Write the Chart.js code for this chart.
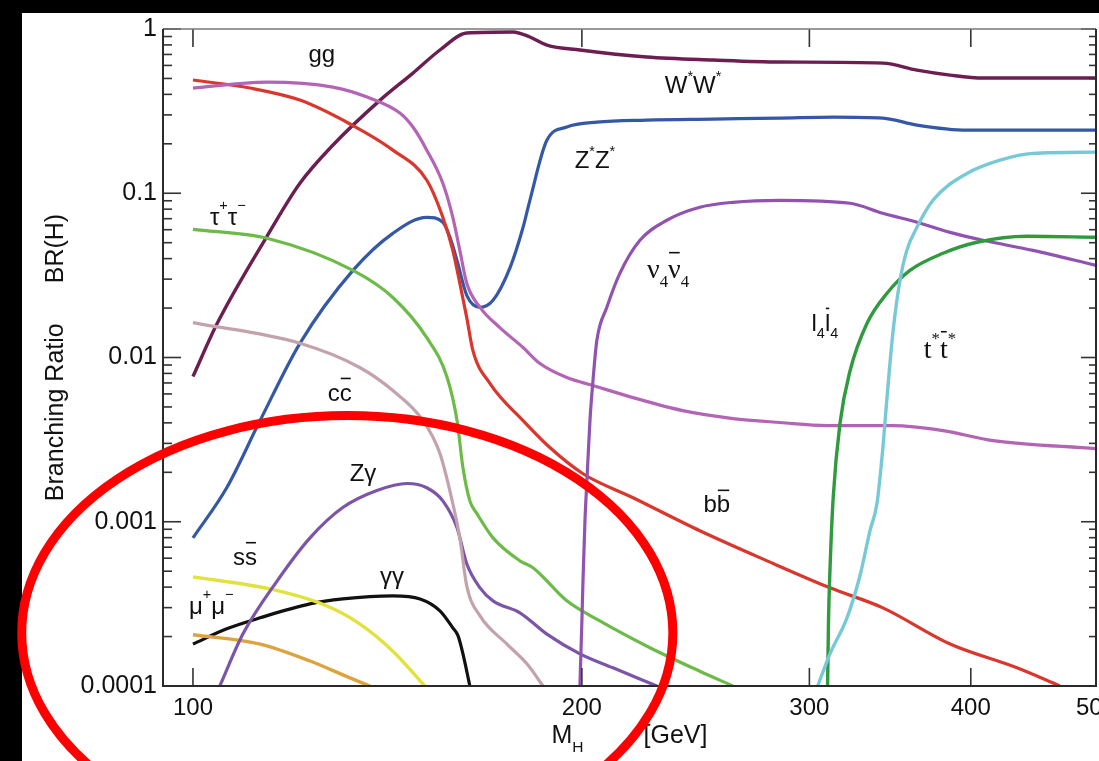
<!DOCTYPE html>
<html>
<head>
<meta charset="utf-8">
<title>Higgs branching ratios</title>
<script src="https://cdn.jsdelivr.net/npm/chart.js@4.4.1/dist/chart.umd.min.js"></script>
<style>
  html, body { margin: 0; padding: 0; background: #000; overflow: hidden; }
  canvas { display: block; }
</style>
</head>
<body>
<canvas id="br" width="1099" height="761"></canvas>
<script>
// Axis ticks
const massTicks = [100, 200, 300, 400, 500];
const massTickLabels = ['100', '200', '300', '400', '500'];
const brTicks = [0.0001, 0.001, 0.01, 0.1, 1];
const brTickLabels = ['0.0001', '0.001', '0.01', '0.1', '1'];

// Branching ratio curves: Higgs mass [GeV] and BR(H)
const bbMass = [100, 110.7, 121.0, 132.3, 142.8, 151.7, 156.1, 158.9, 160.9, 162.9, 164.7, 169.8, 180.1, 188.9, 200.4, 219.1, 246.8, 278.2, 311.2, 342.0, 385.5, 434.3, 468.8];
const bbBR = [0.489, 0.437, 0.369, 0.264, 0.183, 0.120, 0.0714, 0.0449, 0.0283, 0.0175, 0.0110, 0.00694, 0.00413, 0.00283, 0.00196, 0.00140, 0.000881, 0.000578, 0.000396, 0.000299, 0.000180, 0.000129, 0.0001];

const ggMass = [100, 114.1, 128.3, 136.4, 144.6, 148.0, 151.7, 156.1, 158.9, 160.9, 162.9, 166.8, 172.8, 180.1, 185.6, 194.7, 204.0, 219.1, 239.4, 261.8, 284.7, 309.5, 348.3, 380.7, 416.2, 500];
const ggBR = [0.437, 0.475, 0.443, 0.385, 0.308, 0.253, 0.183, 0.115, 0.0714, 0.0449, 0.0283, 0.0202, 0.0152, 0.0115, 0.00919, 0.00755, 0.00675, 0.00570, 0.00475, 0.00425, 0.00402, 0.00385, 0.00385, 0.00359, 0.00312, 0.00279];

const wwMass = [100, 104.4, 114.1, 121.0, 128.3, 139.6, 148.0, 155.3, 162.9, 176.9, 182.3, 187.9, 199.3, 224.5, 252.6, 284.7, 342.0, 363.4, 385.5, 408.8, 500];
const wwBR = [0.00766, 0.0161, 0.0547, 0.115, 0.196, 0.369, 0.539, 0.745, 0.945, 0.959, 0.894, 0.799, 0.745, 0.675, 0.647, 0.629, 0.620, 0.562, 0.524, 0.503, 0.503];

const zzMass = [100, 106.2, 112.7, 121.0, 133.0, 142.8, 151.7, 156.1, 158.1, 160.1, 162.9, 166.8, 170.7, 176.0, 180.1, 182.3, 187.9, 194.7, 205.4, 224.5, 252.6, 284.7, 313.0, 342.0, 363.4, 397.3, 500];
const zzBR = [0.000798, 0.00161, 0.00413, 0.0122, 0.0339, 0.0570, 0.0714, 0.0666, 0.0539, 0.0390, 0.0239, 0.0202, 0.0223, 0.0354, 0.0621, 0.0906, 0.210, 0.253, 0.271, 0.279, 0.283, 0.287, 0.291, 0.287, 0.260, 0.242, 0.242];

const tauMass = [100, 114.1, 133.0, 142.8, 151.7, 157.3, 160.1, 161.8, 163.8, 165.9, 170.7, 179.1, 183.3, 194.7, 206.5, 225.8, 246.8, 261.8];
const tauBR = [0.0603, 0.0532, 0.0339, 0.0232, 0.0132, 0.00755, 0.00413, 0.00213, 0.00134, 0.00112, 0.000798, 0.000578, 0.000525, 0.000330, 0.000249, 0.000171, 0.000123, 0.0001];

const ccMass = [100, 121.0, 134.6, 142.8, 150.7, 155.3, 158.9, 160.9, 162.9, 166.8, 175.0, 181.4, 186.6];
const ccBR = [0.0163, 0.0122, 0.00869, 0.00629, 0.00413, 0.00260, 0.00129, 0.000798, 0.000407, 0.000267, 0.000180, 0.000136, 0.0001];

const zgMass = [104.9, 109.3, 116.2, 123.2, 130.6, 138.8, 146.5, 151.7, 156.1, 160.1, 162.9, 166.8, 170.7, 179.1, 187.9, 199.3, 211.4, 228.6];
const zgBR = [0.0001, 0.000207, 0.000437, 0.000798, 0.00122, 0.00155, 0.00171, 0.00161, 0.00134, 0.000919, 0.000555, 0.000396, 0.000330, 0.000279, 0.000207, 0.000157, 0.000129, 0.0001];

const ssMass = [100, 114.7, 127.0, 134.6, 142.8, 151.2];
const ssBR = [0.000462, 0.000390, 0.000307, 0.000239, 0.000163, 0.0001];

const mumuMass = [100, 112.7, 123.2, 132.3, 137.1];
const mumuBR = [0.000205, 0.000180, 0.000142, 0.000112, 0.0001];

const gamgamMass = [100, 106.2, 112.7, 123.2, 130.6, 142.8, 149.9, 155.3, 158.9, 160.4, 161.8, 163.8];
const gamgamBR = [0.000180, 0.000223, 0.000260, 0.000316, 0.000339, 0.000354, 0.000339, 0.000287, 0.000226, 0.000202, 0.000157, 0.0001];

const nu4Mass = [199.3, 200.0, 200.4, 201.1, 201.8, 202.9, 204.0, 205.4, 209.1, 214.0, 221.8, 232.7, 246.8, 261.8, 284.7, 322.6, 342.0, 363.4, 385.5, 408.8, 446.8, 500];
const nu4BR = [0.0001, 0.000249, 0.000437, 0.00101, 0.00178, 0.00413, 0.00724, 0.0127, 0.0202, 0.0325, 0.0517, 0.0685, 0.0822, 0.0881, 0.0906, 0.0869, 0.0755, 0.0666, 0.0578, 0.0517, 0.0449, 0.0364];

const l4Mass = [309.9, 310.4, 311.2, 313.0, 316.8, 322.6, 332.4, 344.5, 358.9, 380.7, 404.5, 442.1, 500];
const l4BR = [0.0001, 0.000249, 0.000503, 0.00140, 0.00396, 0.00833, 0.0161, 0.0246, 0.0339, 0.0431, 0.0503, 0.0547, 0.0540];

const ttMass = [304.5, 311.2, 320.8, 328.3, 334.2, 338.4, 342.0, 344.5, 348.3, 352.6, 356.9, 363.4, 373.9, 397.3, 421.4, 446.8, 500];
const ttBR = [0.0001, 0.000157, 0.000260, 0.000469, 0.000881, 0.00129, 0.00283, 0.00570, 0.0146, 0.0295, 0.0449, 0.0621, 0.0906, 0.132, 0.159, 0.175, 0.178];

// Channel labels: position in (mass, BR) and markup (^ superscript, _ subscript, ! overbar)
const labelMass = [125.8, 243.8, 204.7, 106.4, 233.2, 308.4, 378.6, 129.9, 254.4, 135.4, 109.7, 142.6, 103.3];
const labelBR = [0.629, 0.407, 0.142, 0.0638, 0.0303, 0.0146, 0.0100, 0.00547, 0.00114, 0.00178, 0.000547, 0.000419, 0.000275];
const labelText = ['gg', 'W^*W^*', 'Z^*Z^*', 'τ^+τ^−', 'ν_4!ν_4', 'l_4!l_4', 't^*!t^*', 'c!c', 'b!b', 'Zγ', 's!s', 'γγ', 'μ^+μ^−'];
const labelSerif = [false, false, false, false, true, false, true, false, false, false, false, false, false];

// Highlight ring spanning (mass range, BR range)
const ringMass = [73.7, 235.2];
const ringBR = [0.00001, 0.00443];

const SANS = "'Liberation Sans', Arial, Helvetica, sans-serif";
const SERIF = "'Liberation Serif', 'Times New Roman', serif";

const channels = [
  { mass: ttMass, br: ttBR, color: '#78c9d7', width: 3.4 },
  { mass: l4Mass, br: l4BR, color: '#2f9a3e', width: 3.4 },
  { mass: nu4Mass, br: nu4BR, color: '#9053b0', width: 3.2 },
  { mass: ccMass, br: ccBR, color: '#c3a3ab', width: 3.2 },
  { mass: tauMass, br: tauBR, color: '#6cbb48', width: 3.2 },
  { mass: zgMass, br: zgBR, color: '#7b55a8', width: 3.2 },
  { mass: ssMass, br: ssBR, color: '#e2e23c', width: 3.4 },
  { mass: mumuMass, br: mumuBR, color: '#dca33e', width: 3.4 },
  { mass: gamgamMass, br: gamgamBR, color: '#111111', width: 3.2 },
  { mass: ggMass, br: ggBR, color: '#b464b5', width: 3.2 },
  { mass: bbMass, br: bbBR, color: '#d9372d', width: 3.2 },
  { mass: zzMass, br: zzBR, color: '#3558a6', width: 3.2 },
  { mass: wwMass, br: wwBR, color: '#6c1e50', width: 3.4 }
];

const datasets = channels.map(c => ({
  data: c.mass.map((m, i) => ({ x: m, y: c.br[i] })),
  borderColor: c.color,
  borderWidth: c.width,
  pointRadius: 0,
  fill: false,
  cubicInterpolationMode: 'monotone'
}));

// minor log ticks 2..9 within each decade of the BR axis
const brMinor = [];
for (let k = 0; k < brTicks.length - 1; k++) {
  for (let m = 2; m <= 9; m++) brMinor.push(m * brTicks[k]);
}

function line(ctx, x1, y1, x2, y2) {
  ctx.beginPath(); ctx.moveTo(x1, y1); ctx.lineTo(x2, y2); ctx.stroke();
}

function drawRich(ctx, cx, baseY, markup, size, family) {
  const segs = [];
  let mode = null, bar = false;
  for (const ch of markup) {
    if (ch === '^') { mode = 'sup'; continue; }
    if (ch === '_') { mode = 'sub'; continue; }
    if (ch === '!') { bar = true; continue; }
    segs.push({ t: ch, mode, bar });
    mode = null; bar = false;
  }
  let total = 0;
  segs.forEach(s => {
    s.size = s.mode ? size * 0.6 : size;
    ctx.font = `${s.size}px ${family}`;
    s.w = ctx.measureText(s.t).width;
    total += s.w;
  });
  let x = cx - total / 2;
  ctx.textAlign = 'left';
  ctx.textBaseline = 'alphabetic';
  segs.forEach(s => {
    ctx.font = `${s.size}px ${family}`;
    let dy = 0;
    if (s.mode === 'sup') dy = (s.t === '*') ? -size * 0.5 : -size * 0.62;
    if (s.mode === 'sub') dy = size * 0.32;
    ctx.fillText(s.t, x, baseY + dy);
    if (s.bar) {
      ctx.lineWidth = 1.6;
      line(ctx, x + 1, baseY - size * 0.92, x + s.w - 1, baseY - size * 0.92);
    }
    x += s.w;
  });
}

const backdrop = {
  id: 'backdrop',
  beforeDraw(chart) {
    const { ctx, width, height } = chart;
    ctx.save();
    ctx.fillStyle = '#000';
    ctx.fillRect(0, 0, width, height);
    ctx.fillStyle = '#fff';
    ctx.fillRect(22, 13, width - 22, height - 13);
    ctx.restore();
  }
};

const frame = {
  id: 'frame',
  afterDatasetsDraw(chart) {
    const { ctx, chartArea: a, scales: { x, y } } = chart;
    ctx.save();
    ctx.strokeStyle = '#333';
    ctx.lineWidth = 1.6;
    brTicks.forEach(v => {
      const py = y.getPixelForValue(v);
      line(ctx, a.left, py, a.left + 18, py);
      line(ctx, a.right, py, a.right - 15, py);
    });
    brMinor.forEach(v => {
      const py = y.getPixelForValue(v);
      line(ctx, a.left, py, a.left + 9, py);
      line(ctx, a.right, py, a.right - 7, py);
    });
    massTicks.forEach(v => {
      const px = x.getPixelForValue(v);
      if (px > a.right - 2) return;
      line(ctx, px, a.bottom, px, a.bottom - 18);
      line(ctx, px, a.top, px, a.top + 18);
    });
    ctx.strokeStyle = '#777';
    ctx.lineWidth = 1.5;
    line(ctx, a.left, a.top, a.right, a.top);
    ctx.strokeStyle = '#2a2a2a';
    ctx.lineWidth = 2;
    line(ctx, a.left, a.top, a.left, a.bottom);
    line(ctx, a.left - 1, a.bottom, a.right + 1, a.bottom);
    line(ctx, a.right, a.top, a.right, a.bottom);
    ctx.restore();
  }
};

const texts = {
  id: 'texts',
  afterDatasetsDraw(chart) {
    const { ctx, chartArea: a, scales: { x, y } } = chart;
    ctx.save();
    ctx.fillStyle = '#111';
    ctx.strokeStyle = '#111';
    labelText.forEach((t, i) => {
      drawRich(ctx, x.getPixelForValue(labelMass[i]), y.getPixelForValue(labelBR[i]), t,
        labelSerif[i] ? 28 : 24, labelSerif[i] ? SERIF : SANS);
    });

    // vertical axis title
    const size = 25;
    ctx.font = `${size}px ${SANS}`;
    const t1 = 'Branching Ratio', t2 = 'BR(H)', gap = 40;
    const w1 = ctx.measureText(t1).width, w2 = ctx.measureText(t2).width;
    const midY = (a.top + a.bottom) / 2;
    ctx.translate(a.left - 100, midY);
    ctx.rotate(-Math.PI / 2);
    ctx.textBaseline = 'alphabetic';
    ctx.textAlign = 'left';
    const start = -(w1 + gap + w2) / 2;
    ctx.fillText(t1, start, 0);
    ctx.fillText(t2, start + w1 + gap, 0);
    ctx.setTransform(1, 0, 0, 1, 0, 0);

    // horizontal axis title: M_H  [GeV]
    const base = a.bottom + 57;
    ctx.font = `${size}px ${SANS}`;
    const wM = ctx.measureText('M').width;
    const wG = ctx.measureText('[GeV]').width;
    ctx.font = `${size * 0.62}px ${SANS}`;
    const wH = ctx.measureText('H').width;
    const gap2 = 60;
    const total = wM + wH + gap2 + wG;
    let px = (a.left + a.right) / 2 - total / 2;
    ctx.font = `${size}px ${SANS}`;
    ctx.fillText('M', px, base);
    px += wM;
    ctx.font = `${size * 0.62}px ${SANS}`;
    ctx.fillText('H', px, base + 9);
    px += wH + gap2;
    ctx.font = `${size}px ${SANS}`;
    ctx.fillText('[GeV]', px, base);
    ctx.restore();
  }
};

const ring = {
  id: 'ring',
  afterDraw(chart) {
    const { ctx, scales: { x, y } } = chart;
    const l = x.getPixelForValue(ringMass[0]);
    const r = x.getPixelForValue(ringMass[1]);
    const b = y.getPixelForValue(ringBR[0]);
    const t = y.getPixelForValue(ringBR[1]);
    ctx.save();
    ctx.strokeStyle = '#ff0000';
    ctx.lineWidth = 9;
    ctx.beginPath();
    ctx.ellipse((l + r) / 2, (t + b) / 2, (r - l) / 2, (b - t) / 2, 0, 0, Math.PI * 2);
    ctx.stroke();
    ctx.restore();
  }
};

new Chart(document.getElementById('br'), {
  type: 'line',
  data: { datasets },
  plugins: [backdrop, frame, texts, ring],
  options: {
    responsive: false,
    animation: false,
    devicePixelRatio: 1,
    layout: { padding: { top: 29, right: 3, left: 0, bottom: 0 } },
    plugins: { legend: { display: false }, tooltip: { enabled: false }, title: { display: false } },
    scales: {
      x: {
        type: 'logarithmic',
        min: 94.8,
        max: 500,
        grid: { display: false, drawTicks: false, tickLength: 0 },
        border: { display: false },
        afterBuildTicks: s => { s.ticks = massTicks.map(v => ({ value: v })); },
        afterFit: s => { s.height = 75; s.paddingLeft = 0; s.paddingRight = 0; },
        ticks: {
          autoSkip: false, maxRotation: 0, minRotation: 0, padding: 8,
          color: '#111', font: { family: SANS, size: 24 },
          callback: (v, i) => massTickLabels[i]
        }
      },
      y: {
        type: 'logarithmic',
        min: 0.0001,
        max: 1,
        grid: { display: false, drawTicks: false, tickLength: 0 },
        border: { display: false },
        afterBuildTicks: s => { s.ticks = brTicks.map(v => ({ value: v })); },
        afterFit: s => { s.width = 163; s.paddingTop = 0; s.paddingBottom = 0; },
        ticks: {
          autoSkip: false, padding: 6,
          color: '#111', font: { family: SANS, size: 25 },
          callback: (v, i) => brTickLabels[i]
        }
      }
    }
  }
});
</script>
</body>
</html>
